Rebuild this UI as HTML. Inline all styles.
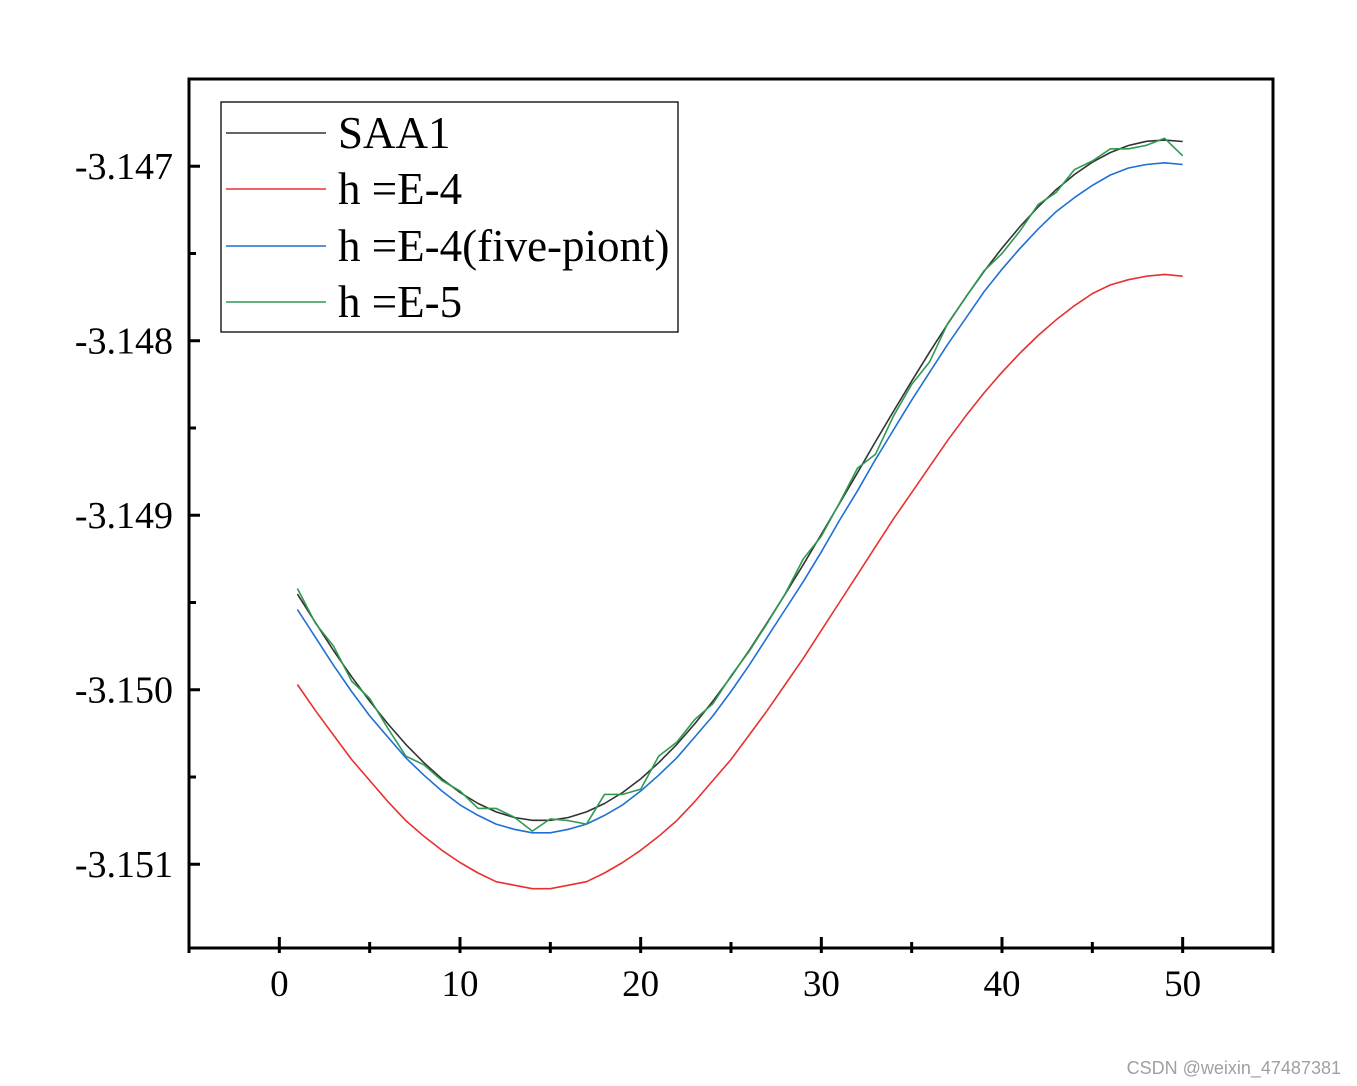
<!DOCTYPE html>
<html><head><meta charset="utf-8"><style>
html,body{margin:0;padding:0;background:#fff;}
svg{display:block;}
text{font-family:"Liberation Serif",serif;}
</style></head><body>
<svg id="chart" width="1357" height="1086" viewBox="0 0 1357 1086" xmlns="http://www.w3.org/2000/svg">
<g id="plot"></g>
<text x="1341" y="1074" text-anchor="end" font-size="18" fill="#a0a0a0" style="font-family:'Liberation Sans',sans-serif">CSDN @weixin_47487381</text>
</svg>
<script>
const xValues = [1,2,3,4,5,6,7,8,9,10,11,12,13,14,15,16,17,18,19,20,21,22,23,24,25,26,27,28,29,30,31,32,33,34,35,36,37,38,39,40,41,42,43,44,45,46,47,48,49,50];
const saa1 = [-3.149452,-3.149616,-3.149775,-3.149925,-3.150065,-3.150194,-3.150313,-3.150418,-3.150511,-3.150589,-3.150652,-3.150700,-3.150732,-3.150748,-3.150748,-3.150732,-3.150700,-3.150652,-3.150589,-3.150511,-3.150418,-3.150313,-3.150194,-3.150065,-3.149925,-3.149775,-3.149616,-3.149452,-3.149283,-3.149110,-3.148933,-3.148756,-3.148578,-3.148403,-3.148231,-3.148064,-3.147903,-3.147749,-3.147604,-3.147469,-3.147345,-3.147233,-3.147134,-3.147048,-3.146977,-3.146921,-3.146881,-3.146857,-3.146850,-3.146858];
const hE4 = [-3.14997,-3.15012,-3.15026,-3.15040,-3.15052,-3.15064,-3.15075,-3.15084,-3.15092,-3.15099,-3.15105,-3.15110,-3.15112,-3.15114,-3.15114,-3.15112,-3.15110,-3.15105,-3.15099,-3.15092,-3.15084,-3.15075,-3.15064,-3.15052,-3.15040,-3.15026,-3.15012,-3.14997,-3.14982,-3.14966,-3.14950,-3.14934,-3.14918,-3.14902,-3.14887,-3.14872,-3.14857,-3.14843,-3.14830,-3.14818,-3.14807,-3.14797,-3.14788,-3.14780,-3.14773,-3.14768,-3.14765,-3.14763,-3.14762,-3.14763];
const hE4five = [-3.14954,-3.14970,-3.14986,-3.15001,-3.15015,-3.15027,-3.15039,-3.15049,-3.15058,-3.15066,-3.15072,-3.15077,-3.15080,-3.15082,-3.15082,-3.15080,-3.15077,-3.15072,-3.15066,-3.15058,-3.15049,-3.15039,-3.15027,-3.15015,-3.15001,-3.14986,-3.14970,-3.14954,-3.14938,-3.14921,-3.14903,-3.14886,-3.14868,-3.14851,-3.14834,-3.14818,-3.14802,-3.14787,-3.14772,-3.14759,-3.14747,-3.14736,-3.14726,-3.14718,-3.14711,-3.14705,-3.14701,-3.14699,-3.14698,-3.14699];
const hE5 = [-3.14942,-3.14962,-3.14975,-3.14995,-3.15005,-3.15022,-3.15038,-3.15043,-3.15052,-3.15058,-3.15068,-3.15068,-3.15073,-3.15081,-3.15074,-3.15075,-3.15077,-3.15060,-3.15060,-3.15057,-3.15038,-3.15030,-3.15017,-3.15008,-3.14992,-3.14978,-3.14962,-3.14945,-3.14925,-3.14912,-3.14893,-3.14873,-3.14865,-3.14843,-3.14825,-3.14812,-3.14790,-3.14775,-3.14760,-3.14750,-3.14737,-3.14722,-3.14715,-3.14702,-3.14697,-3.14690,-3.14690,-3.14688,-3.14684,-3.14694];
const xTicks = [0,10,20,30,40,50];
const yTicks = [-3.147,-3.148,-3.149,-3.150,-3.151];
const yTickLabels = ["-3.147","-3.148","-3.149","-3.150","-3.151"];
const seriesNames = ["SAA1","h =E-4","h =E-4(five-piont)","h =E-5"];

const L=189,R=1273,T=79,B=948;
const xMin=-5,xMax=55,yMin=-3.15148,yMax=-3.1465;
const sx=v=>L+(v-xMin)/(xMax-xMin)*(R-L);
const sy=v=>B-(v-yMin)/(yMax-yMin)*(B-T);
const NS="http://www.w3.org/2000/svg";
const g=document.getElementById('plot');
function mk(tag,attrs,parent){const e=document.createElementNS(NS,tag);for(const k in attrs)e.setAttribute(k,attrs[k]);(parent||g).appendChild(e);return e;}

const colors=["#333333","#e8312f","#1f6fd6","#2e9a52"];
const data=[saa1,hE4,hE4five,hE5];
const names=["series-saa1","series-h-e4","series-h-e4-five-point","series-h-e5"];
data.forEach((arr,i)=>{
  const d=arr.map((v,j)=>(j?'L':'M')+sx(xValues[j]).toFixed(1)+' '+sy(v).toFixed(1)).join(' ');
  const p=mk('path',{d:d,fill:'none',stroke:colors[i],'stroke-width':1.6,'stroke-linejoin':'round'});
  
  
});

const fr=mk('rect',{x:L,y:T,width:R-L,height:B-T,fill:'none',stroke:'#000','stroke-width':3});



for(let v=-5;v<=55;v+=5){
  const major=v%10===0;
  const t=mk('line',{x1:sx(v),x2:sx(v),y1:B,y2:B-(major?11:6),stroke:'#000','stroke-width':3});
  
  
  const t2=mk('line',{x1:sx(v),x2:sx(v),y1:B,y2:B+5,stroke:'#000','stroke-width':3});
  
  
}
xTicks.forEach(v=>{
  const t=mk('text',{x:sx(v),y:996,'text-anchor':'middle','font-size':37});
  t.textContent=v;
  
  
});
for(let k=0;k<=9;k++){
  const v=-3.151+k*0.0005;
  const major=k%2===0;
  const t=mk('line',{x1:L,x2:L+(major?11:7),y1:sy(v),y2:sy(v),stroke:'#000','stroke-width':3});
  
  
}
yTicks.forEach((v,i)=>{
  const t=mk('text',{x:173,y:sy(v)+13,'text-anchor':'end','font-size':38});
  t.textContent=yTickLabels[i];
  
  
});

const lg=mk('g',{});


mk('rect',{x:221,y:102,width:457,height:230,fill:'#fff',stroke:'#000','stroke-width':1.3},lg);
const ly=[133,189,246,302];
seriesNames.forEach((n,i)=>{
  const e=mk('g',{},lg);
  
  
  mk('line',{x1:226,x2:326,y1:ly[i],y2:ly[i],stroke:colors[i],'stroke-width':1.6},e);
  const t=mk('text',{x:338,y:ly[i]+15,'font-size':45},e);
  t.textContent=n;
});
</script>
</body></html>
